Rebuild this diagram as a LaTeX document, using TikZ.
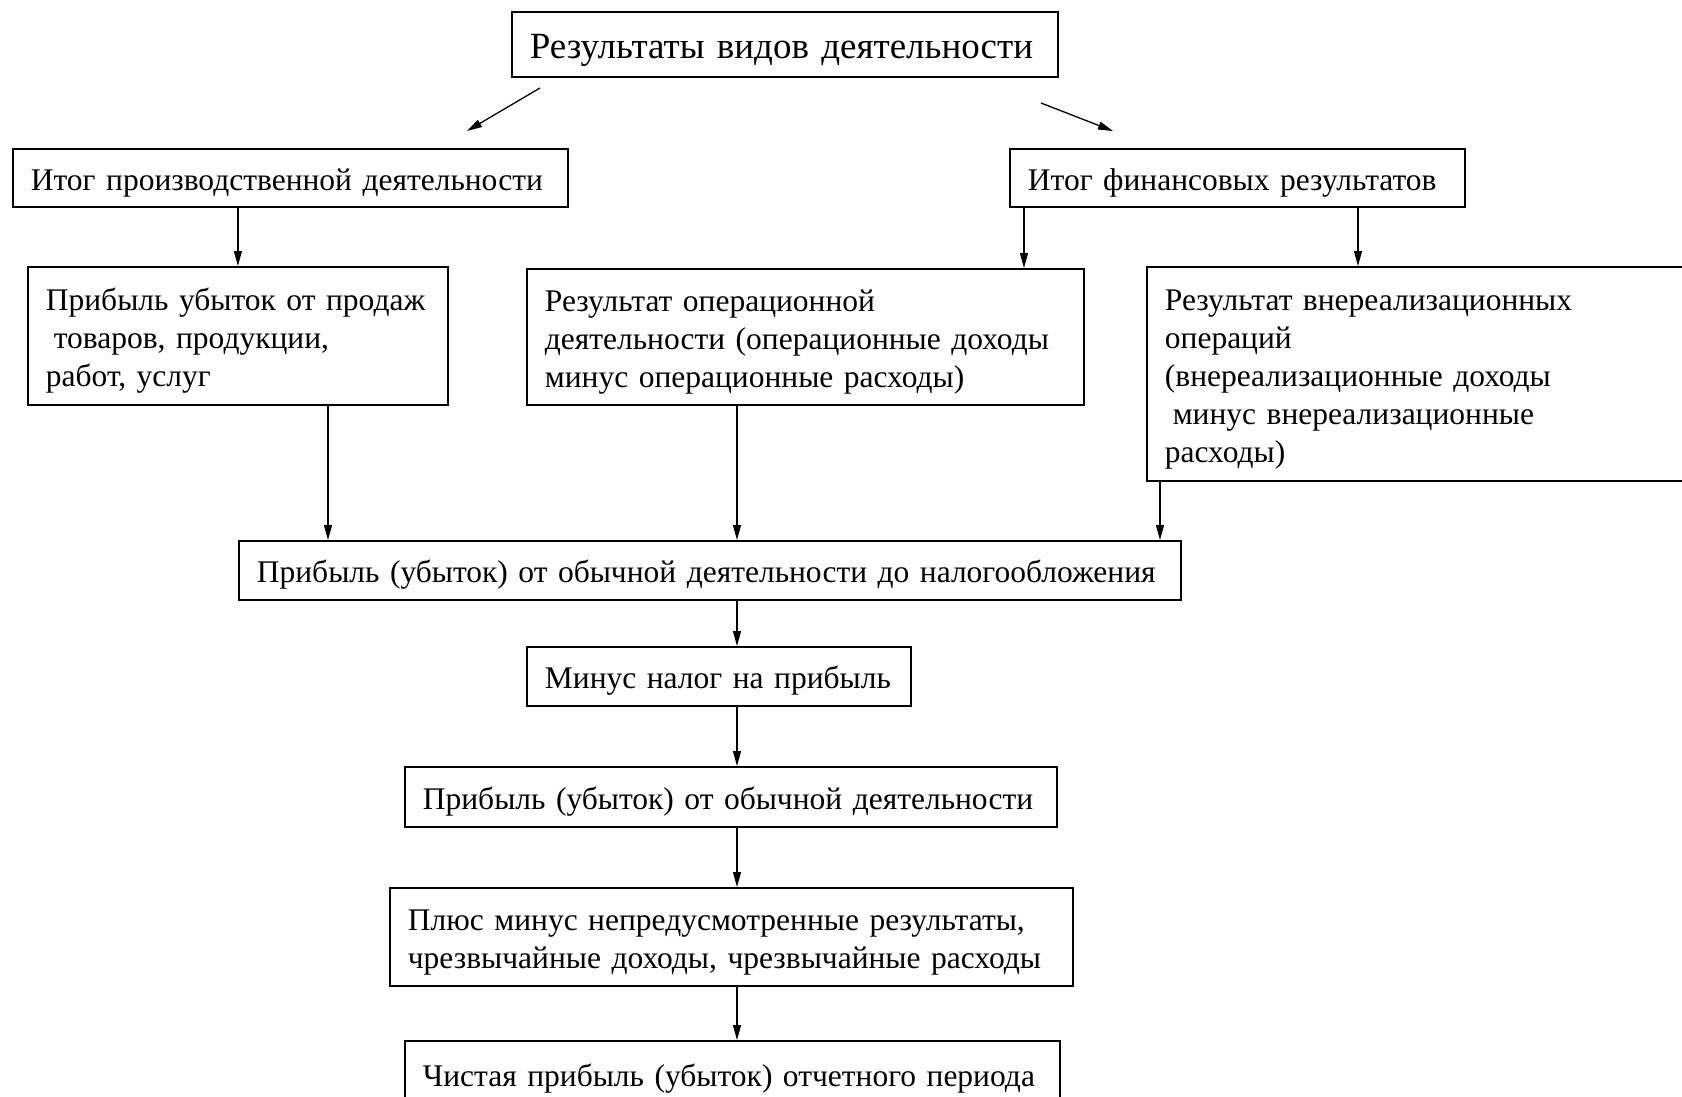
\documentclass[tikz,border=0pt]{standalone}
\usepackage{fontspec}
\setmainfont{Liberation Serif}
\usetikzlibrary{arrows.meta}
\newcommand\oneline[1]{\mbox{#1}}
\begin{document}
\begin{tikzpicture}[x=1pt,y=-1pt,
  box/.style={draw, line width=1.8pt, anchor=north west, inner xsep=18pt, inner ysep=0pt,
    align=left, font=\fontsize{31.5}{38}\selectfont,
    execute at begin node={\rule{0pt}{1em}}},
  arr/.style={line width=1.3pt, -{Triangle[length=15pt,width=8pt]}}]
\useasboundingbox (0,0) rectangle (1682,1096);
\fill[white] (0,0) rectangle (1682,1096);

\node[box, font=\fontsize{37}{43}\selectfont, minimum width=546pt, minimum height=65pt, text width=510pt] (top) at (511,11) {\oneline{Результаты видов деятельности}};
\node[box, minimum width=555pt, minimum height=58pt, text width=519pt] (prod) at (12,148) {\oneline{Итог производственной деятельности}};
\node[box, minimum width=455pt, minimum height=58pt, text width=419pt] (fin) at (1009,148) {\oneline{Итог финансовых результатов}};
\node[box, minimum width=420pt, minimum height=138pt, text width=384pt] (sales) at (27,266) {\oneline{Прибыль убыток от продаж}\\\oneline{\hspace*{0.25em}товаров, продукции,}\\\oneline{работ, услуг}};
\node[box, minimum width=557pt, minimum height=136pt, text width=521pt] (oper) at (526,268) {\oneline{Результат операционной}\\\oneline{деятельности (операционные доходы}\\\oneline{минус операционные расходы)}};
\node[box, minimum width=538pt, minimum height=214pt, text width=502pt] (nonop) at (1146,266) {\oneline{Результат внереализационных}\\\oneline{операций}\\\oneline{(внереализационные доходы}\\\oneline{\hspace*{0.25em}минус внереализационные}\\\oneline{расходы)}};
\node[box, minimum width=942pt, minimum height=59pt, text width=906pt] (pretax) at (238,540) {\oneline{Прибыль (убыток) от обычной деятельности до налогообложения}};
\node[box, minimum width=384pt, minimum height=59pt, text width=348pt] (tax) at (526,646) {\oneline{Минус налог на прибыль}};
\node[box, minimum width=652pt, minimum height=60pt, text width=616pt] (ord) at (404,766) {\oneline{Прибыль (убыток) от обычной деятельности}};
\node[box, minimum width=683pt, minimum height=98pt, text width=647pt] (extra) at (389,887) {\oneline{Плюс минус непредусмотренные результаты,}\\\oneline{чрезвычайные доходы, чрезвычайные расходы}};
\node[box, minimum width=655pt, minimum height=66pt, text width=619pt] (net) at (404,1040) {\oneline{Чистая прибыль (убыток) отчетного периода}};

\coordinate (a1s) at (540,88);
\coordinate (a1e) at (467,131);
\coordinate (a2s) at (1041,103);
\coordinate (a2e) at (1113,131);
\coordinate (xo) at (1024,0);
\coordinate (xn) at (1358,0);
\coordinate (xs) at (328,0);
\coordinate (xm) at (737,0);
\coordinate (xr) at (1160,0);

\draw[arr] (a1s) -- (a1e);
\draw[arr] (a2s) -- (a2e);
\draw[arr] (sales.north |- prod.south) -- (sales.north);
\draw[arr] (fin.south -| xo) -- (oper.north -| xo);
\draw[arr] (fin.south -| xn) -- (nonop.north -| xn);
\draw[arr] (sales.south -| xs) -- (pretax.north -| xs);
\draw[arr] (oper.south -| xm) -- (pretax.north -| xm);
\draw[arr] (nonop.south -| xr) -- (pretax.north -| xr);
\draw[arr] (pretax.south -| xm) -- (tax.north -| xm);
\draw[arr] (tax.south -| xm) -- (ord.north -| xm);
\draw[arr] (ord.south -| xm) -- (extra.north -| xm);
\draw[arr] (extra.south -| xm) -- (net.north -| xm);
\end{tikzpicture}
\end{document}
